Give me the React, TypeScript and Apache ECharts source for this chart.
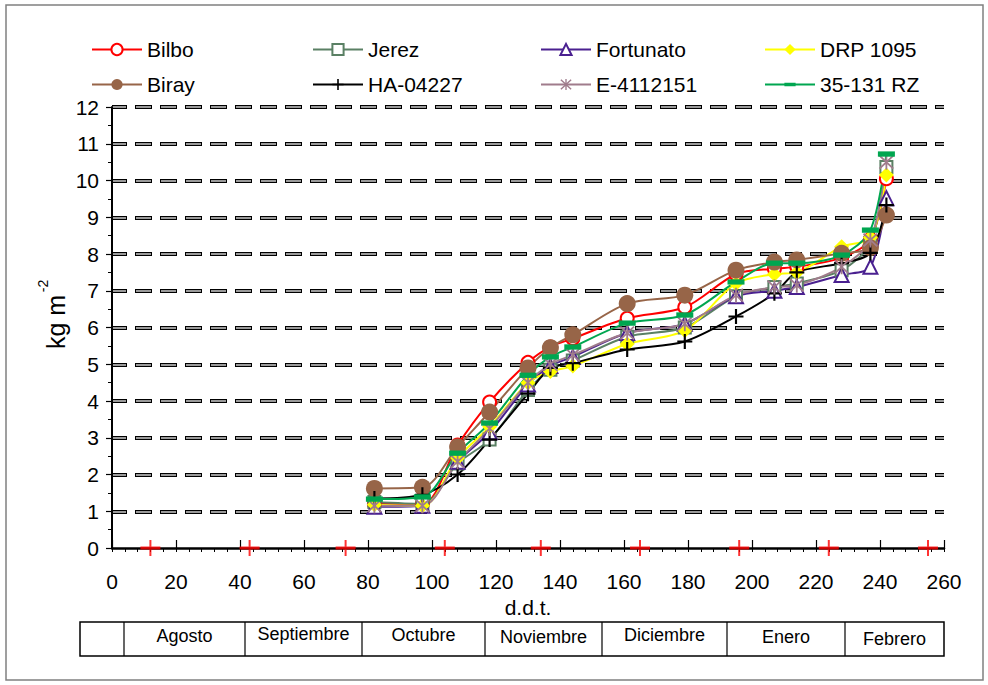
import React, { useEffect, useRef } from 'react';
import * as echarts from 'echarts';

// ---- data ----
const days = [82, 97, 108, 118, 130, 137, 144, 161, 179, 195, 207, 214, 228, 237, 242];
const bilbo = [1.2, 1.2, 2.8, 3.97, 5.05, 5.47, 5.7, 6.25, 6.55, 7.45, 7.6, 7.65, 7.9, 8.4, 10.05];
const jerez = [1.25, 1.2, 2.3, 2.95, 4.3, 4.85, 5.1, 5.75, 6.0, 6.85, 7.1, 7.2, 7.56, 8.3, 10.37];
const fortunato = [1.12, 1.15, 2.35, 3.15, 4.45, 4.95, 5.2, 5.85, 6.1, 6.85, 7.0, 7.1, 7.43, 7.65, 9.52];
const drp1095 = [1.18, 1.15, 2.45, 3.3, 4.5, 4.8, 4.95, 5.55, 5.92, 7.2, 7.45, 7.5, 8.2, 8.45, 10.15];
const biray = [1.62, 1.65, 2.75, 3.7, 4.9, 5.45, 5.8, 6.65, 6.88, 7.56, 7.78, 7.84, 8.02, 8.17, 9.06];
const ha04227 = [1.35, 1.45, 2.0, 2.95, 4.2, 4.9, 5.03, 5.4, 5.62, 6.3, 6.93, 7.5, 7.75, 8.03, 9.33];
const e4112151 = [1.15, 1.15, 2.35, 3.25, 4.5, 5.0, 5.25, 5.85, 6.1, 6.88, 7.1, 7.15, 7.65, 8.38, 10.5];
const rz35131 = [1.33, 1.39, 2.58, 3.4, 4.7, 5.2, 5.47, 6.12, 6.34, 7.24, 7.75, 7.75, 7.97, 8.65, 10.72];

const monthStarts = [12, 43, 73, 104, 134, 165, 196, 224, 255];
const months = ['Agosto', 'Septiembre', 'Octubre', 'Noviembre', 'Diciembre', 'Enero', 'Febrero'];

const xMin = 0, xMax = 260, xStep = 20;
const yMin = 0, yMax = 12, yStep = 1;

// ---- layout constants ----
const FONT = "'Liberation Sans', Arial, sans-serif";
const tableCols = [80, 124, 245, 362, 485, 602, 727, 845, 944];
const tableTop = 622, tableBottom = 656;
const monthTextY = [636, 634, 635, 637, 635, 637, 639];

const PLUS = 'path://M6,0 H8 V6 H14 V8 H8 V14 H6 V8 H0 V6 H6 Z';
const ASTER =
  'path://M6.2,0 H7.8 V14 H6.2 Z ' +
  'M1.566,0.434 L13.566,12.434 L12.434,13.566 L0.434,1.566 Z ' +
  'M12.434,0.434 L13.566,1.566 L1.566,13.566 L0.434,12.434 Z';
const BAR = 'path://M0,0 M0,5.5 H16 V10.5 H0 Z M16,16';
const REDCROSS = 'path://M9,0 H11 V16 H9 Z M0,6.5 H20 V9.5 H0 Z';

type Def = { name: string; values: number[]; color: string; symbol: string; size: number; empty?: boolean };

const defs: Def[] = [
  { name: 'Bilbo', values: bilbo, color: '#ff0000', symbol: 'emptyCircle', size: 13, empty: true },
  { name: 'Jerez', values: jerez, color: '#5a8064', symbol: 'emptyRect', size: 12, empty: true },
  { name: 'Fortunato', values: fortunato, color: '#4a2090', symbol: 'emptyTriangle', size: 14, empty: true },
  { name: 'DRP 1095', values: drp1095, color: '#ffff00', symbol: 'diamond', size: 15 },
  { name: 'Biray', values: biray, color: '#976548', symbol: 'circle', size: 17 },
  { name: 'HA-04227', values: ha04227, color: '#000000', symbol: PLUS, size: 15 },
  { name: 'E-4112151', values: e4112151, color: '#a07c8c', symbol: ASTER, size: 15 },
  { name: '35-131 RZ', values: rz35131, color: '#00a650', symbol: BAR, size: 17 },
];

const legendPos = [
  [91, 39], [312, 39], [540, 39], [764, 39],
  [91, 74], [312, 74], [540, 74], [764, 74],
];

export default function App() {
  const ref = useRef<HTMLDivElement>(null);
  useEffect(() => {
    if (!ref.current) return;
    const chart = echarts.init(ref.current, undefined, { renderer: 'svg' });

    const series: any[] = defs.map((d) => ({
      name: d.name,
      type: 'line',
      xAxisIndex: 0,
      yAxisIndex: 0,
      smooth: 0.3,
      symbol: d.symbol,
      symbolSize: d.size,
      showAllSymbol: true,
      data: days.map((x, i) => [x, d.values[i]]),
      lineStyle: { color: d.color, width: 2 },
      itemStyle: d.empty
        ? { color: d.color, borderColor: d.color, borderWidth: 2 }
        : { color: d.color, borderWidth: 0 },
      emphasis: { disabled: true },
    }));

    series.push({
      name: 'months',
      type: 'scatter',
      xAxisIndex: 0,
      yAxisIndex: 0,
      symbol: REDCROSS,
      symbolSize: [20, 16],
      itemStyle: { color: '#ff0000' },
      data: monthStarts.map((m) => [m, 0]),
      z: 10,
      silent: true,
    });

    const legends = defs.map((d, i) => ({
      data: [d.name],
      left: legendPos[i][0],
      top: legendPos[i][1],
      padding: 0,
      itemWidth: 50,
      itemHeight: 14,
      selectedMode: false,
      textStyle: { fontSize: 21, color: '#000', fontFamily: FONT },
    }));

    const graphics: any[] = [
      {
        type: 'rect',
        shape: { x: 6, y: 5, width: 977, height: 675 },
        style: { fill: 'none', stroke: '#808080', lineWidth: 1.5 },
        silent: true,
      },
      {
        type: 'text',
        x: 56,
        y: 322,
        rotation: Math.PI / 2,
        style: { text: 'kg m', fontSize: 25, fontFamily: FONT, fill: '#000', align: 'center', verticalAlign: 'middle' },
      },
      {
        type: 'text',
        x: 43,
        y: 286,
        rotation: Math.PI / 2,
        style: { text: '-2', fontSize: 14, fontFamily: FONT, fill: '#000', align: 'center', verticalAlign: 'middle' },
      },
      {
        type: 'rect',
        shape: { x: tableCols[0], y: tableTop, width: tableCols[tableCols.length - 1] - tableCols[0], height: tableBottom - tableTop },
        style: { fill: '#fff', stroke: '#000', lineWidth: 1.5 },
      },
    ];
    for (let i = 1; i < tableCols.length - 1; i++) {
      graphics.push({
        type: 'line',
        shape: { x1: tableCols[i], y1: tableTop, x2: tableCols[i], y2: tableBottom },
        style: { stroke: '#000', lineWidth: 1.2 },
      });
    }
    months.forEach((m, i) => {
      graphics.push({
        type: 'text',
        x: (tableCols[i + 1] + tableCols[i + 2]) / 2,
        y: monthTextY[i],
        style: { text: m, fontSize: 18, fontFamily: FONT, fill: '#000', align: 'center', verticalAlign: 'middle' },
      });
    });

    chart.setOption({
      animation: false,
      backgroundColor: '#fff',
      grid: { left: 112, right: 44, top: 107, bottom: 137, containLabel: false },
      legend: legends,
      xAxis: [
        {
          type: 'value',
          min: xMin,
          max: xMax,
          interval: xStep,
          name: 'd.d.t.',
          nameLocation: 'middle',
          nameGap: 48,
          nameTextStyle: { fontSize: 21, color: '#000', fontFamily: FONT },
          axisLine: { show: true, lineStyle: { color: '#000', width: 2.5 } },
          axisTick: { show: true, inside: true, length: 8, lineStyle: { color: '#000', width: 1.2 } },
          axisLabel: { fontSize: 21, color: '#000', fontFamily: FONT, margin: 23 },
          splitLine: { show: false },
        },
        {
          type: 'value',
          min: xMin,
          max: xMax,
          interval: 4,
          position: 'bottom',
          axisLine: { show: false },
          axisTick: { show: true, length: 4, lineStyle: { color: '#000', width: 1 } },
          axisLabel: { show: false },
          splitLine: { show: false },
        },
      ],
      yAxis: [
        {
          type: 'value',
          min: yMin,
          max: yMax,
          interval: yStep,
          axisLine: { show: true, lineStyle: { color: '#000', width: 2 } },
          axisTick: { show: true, length: 6, lineStyle: { color: '#000', width: 1.2 } },
          minorTick: { show: true, splitNumber: 2, length: 4, lineStyle: { color: '#000', width: 1 } },
          axisLabel: { fontSize: 21, color: '#000', fontFamily: FONT, margin: 13 },
          splitLine: {
            show: true,
            showMinLine: false,
            lineStyle: { color: '#000', width: 4, type: [17, 8], dashOffset: 2 },
          },
        },
        {
          type: 'value',
          min: yMin,
          max: yMax,
          interval: yStep,
          position: 'right',
          axisLine: { show: true, lineStyle: { color: '#000', width: 1 } },
          axisTick: { show: false },
          axisLabel: { show: false },
          splitLine: {
            show: true,
            showMinLine: false,
            lineStyle: { color: '#9a9a9a', width: 2, type: [15, 10], dashOffset: 1 },
          },
        },
      ],
      series,
      graphic: graphics,
    });

    return () => chart.dispose();
  }, []);

  return (
    <div
      ref={ref}
      style={{ position: 'absolute', left: 0, top: 0, width: 988, height: 685, background: '#fff' }}
    />
  );
}
